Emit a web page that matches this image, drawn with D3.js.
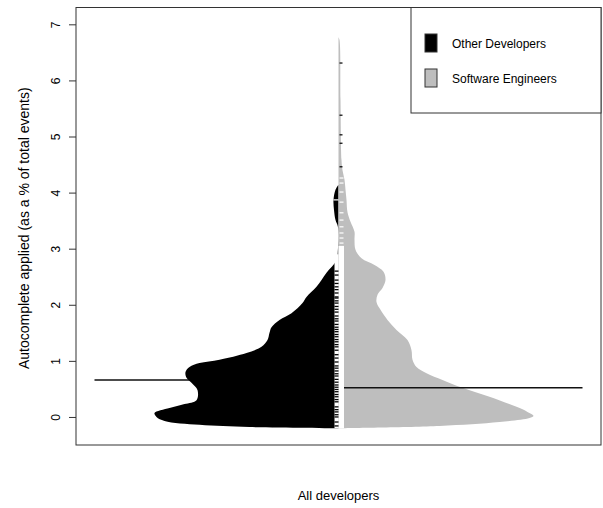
<!DOCTYPE html>
<html>
<head>
<meta charset="utf-8">
<script src="https://cdn.jsdelivr.net/npm/d3@7"></script>
<style>
  body { margin: 0; background: #fff; }
  text { font-family: "Liberation Sans", Arial, Helvetica, sans-serif; fill: #000; }
</style>
</head>
<body>
<svg></svg>
<script>
// bean outlines: [value, relative density]
const otherDevDensity = [
  [-0.20, 0], [-0.18, 0.445], [-0.14, 0.695], [-0.07, 0.87], [0.0, 0.91], [0.07, 0.92],
  [0.16, 0.845], [0.23, 0.77], [0.30, 0.71], [0.48, 0.705], [0.61, 0.735], [0.70, 0.76],
  [0.80, 0.765], [0.89, 0.745], [0.96, 0.695], [1.02, 0.595], [1.14, 0.46], [1.25, 0.385],
  [1.37, 0.355], [1.50, 0.345], [1.60, 0.335], [1.73, 0.295], [1.85, 0.235], [2.03, 0.18],
  [2.14, 0.16], [2.32, 0.11], [2.57, 0.06], [2.80, 0.01], [2.98, 0.003], [3.39, 0.003],
  [3.51, 0.015], [3.69, 0.0225], [3.87, 0.025], [4.05, 0.015], [4.14, 0]
];
const softEngDensity = [
  [-0.20, 0], [-0.16, 0.505], [-0.09, 0.805], [-0.02, 0.955], [0.02, 0.975], [0.09, 0.945],
  [0.18, 0.89], [0.36, 0.755], [0.52, 0.62], [0.66, 0.52], [0.78, 0.44], [0.89, 0.39],
  [1.02, 0.37], [1.19, 0.365], [1.37, 0.345], [1.55, 0.29], [1.73, 0.245], [1.91, 0.21],
  [2.05, 0.19], [2.18, 0.195], [2.30, 0.22], [2.44, 0.235], [2.59, 0.225], [2.71, 0.18],
  [2.83, 0.115], [2.98, 0.085], [3.16, 0.08], [3.30, 0.08], [3.48, 0.06], [3.65, 0.045],
  [3.87, 0.04], [4.05, 0.035], [4.23, 0.03], [4.40, 0.02], [4.58, 0.015], [5.65, 0.01],
  [6.72, 0.005], [6.77, 0]
];
const groupMeans = [0.66, 0.52];
const otherDevRug = [-0.16, -0.09, 0.0, 0.04, 0.09, 0.13, 0.18, 0.27, 0.31, 0.36, 0.40, 0.45,
  0.49, 0.53, 0.57, 0.62, 0.67, 0.73, 0.77, 0.82, 0.87, 0.91, 0.98, 1.05, 1.11, 1.19, 1.25,
  1.29, 1.34, 1.38, 1.43, 1.47, 1.52, 1.56, 1.60, 1.65, 1.71, 1.75, 1.80, 1.87, 1.92, 1.97,
  2.03, 2.07, 2.12, 2.14, 2.21, 2.27, 2.32, 2.38, 2.44, 2.53, 2.60];
const otherDevUpperRug = [3.87];
const softEngUpperRug = [3.10, 3.19, 3.28, 3.39, 3.51, 3.64, 3.83, 4.01, 4.17, 4.26];
const softEngOutliers = [4.46, 4.88, 5.03, 5.38, 6.31];
const yTicks = [0, 1, 2, 3, 4, 5, 6, 7];
const legendNames = ["Other Developers", "Software Engineers"];
const legendColors = ["#000000", "#bebebe"];

const width = 603;
const height = 508;
const svg = d3.select("svg").attr("width", width).attr("height", height);

const plotLeft = 76, plotRight = 601, plotTop = 7.5, plotBottom = 445;
const x = d3.scaleLinear().domain([0.5, 1.5]).range([plotLeft, plotRight]);
const y = d3.scaleLinear().domain([-0.5, 7.3]).range([plotBottom, plotTop]);
const w = d3.scaleLinear().domain([0, 1]).range([0, 200]);
const cx = x(1);

const plot = svg.append("g");

// average of the left group, the black bean covers its inner part
plot.append("line")
    .attr("x1", cx - 244).attr("x2", cx)
    .attr("y1", y(groupMeans[0])).attr("y2", y(groupMeans[0]))
    .attr("stroke", "#111").attr("stroke-width", 1.5);

// left half (black)
plot.append("path")
    .datum(otherDevDensity)
    .attr("fill", "#000")
    .attr("d", d3.area()
      .curve(d3.curveCatmullRom)
      .y(d => y(d[0]))
      .x0(cx)
      .x1(d => cx - w(d[1])));

// right half (grey)
plot.append("path")
    .datum(softEngDensity)
    .attr("fill", "#bebebe")
    .attr("d", d3.area()
      .curve(d3.curveCatmullRom)
      .y(d => y(d[0]))
      .x0(cx)
      .x1(d => cx + w(d[1])));

// dense bean lines near the middle
plot.append("rect")
    .attr("x", cx - 4).attr("width", 4)
    .attr("y", y(2.9)).attr("height", y(-0.2) - y(2.9))
    .attr("fill", "#fff");
plot.append("rect")
    .attr("x", cx).attr("width", 5.5)
    .attr("y", y(3.05)).attr("height", y(-0.2) - y(3.05))
    .attr("fill", "#fff");

plot.selectAll(".rugL")
    .data(otherDevRug)
    .enter().append("line")
      .attr("x1", cx - 4).attr("x2", cx)
      .attr("y1", d => y(d)).attr("y2", d => y(d))
      .attr("stroke", "#000").attr("stroke-width", 1.3);

plot.selectAll(".rugLU")
    .data(otherDevUpperRug)
    .enter().append("line")
      .attr("x1", cx - 5).attr("x2", cx)
      .attr("y1", d => y(d)).attr("y2", d => y(d))
      .attr("stroke", "#fff").attr("stroke-width", 1.2);

plot.selectAll(".rugRU")
    .data(softEngUpperRug)
    .enter().append("line")
      .attr("x1", cx + 1).attr("x2", cx + 5)
      .attr("y1", d => y(d)).attr("y2", d => y(d))
      .attr("stroke", "#fff").attr("stroke-width", 1.2);

plot.selectAll(".rugRO")
    .data(softEngOutliers)
    .enter().append("line")
      .attr("x1", cx + 1).attr("x2", cx + 4)
      .attr("y1", d => y(d)).attr("y2", d => y(d))
      .attr("stroke", "#000").attr("stroke-width", 1.2);

// average of the right group
plot.append("line")
    .attr("x1", cx + 5.5).attr("x2", cx + 244)
    .attr("y1", y(groupMeans[1])).attr("y2", y(groupMeans[1]))
    .attr("stroke", "#111").attr("stroke-width", 1.5);

// box
svg.append("rect")
    .attr("x", plotLeft).attr("y", plotTop)
    .attr("width", plotRight - plotLeft).attr("height", plotBottom - plotTop)
    .attr("fill", "none").attr("stroke", "#333").attr("stroke-width", 1);

// y axis
const yAxis = svg.append("g")
    .attr("transform", `translate(${plotLeft},0)`)
    .call(d3.axisLeft(y).tickValues(yTicks).tickSize(7).tickFormat(d3.format("d")));
yAxis.select(".domain").remove();
yAxis.selectAll(".tick line").attr("stroke", "#333");
yAxis.selectAll(".tick text")
    .attr("x", null).attr("dy", null)
    .attr("transform", "translate(-16,0) rotate(-90)")
    .attr("text-anchor", "middle")
    .style("font-size", "12px")
    .style("font-family", "'Liberation Sans', Arial, sans-serif");

svg.append("text")
    .attr("transform", `translate(29,${(plotTop + plotBottom) / 2 + 2}) rotate(-90)`)
    .attr("text-anchor", "middle")
    .style("font-size", "14px")
    .text("Autocomplete applied (as a % of total events)");

svg.append("text")
    .attr("x", cx).attr("y", 500)
    .attr("text-anchor", "middle")
    .style("font-size", "13px")
    .text("All developers");

// legend
const legend = svg.append("g");
legend.append("rect")
    .attr("x", 411).attr("y", plotTop)
    .attr("width", plotRight - 411).attr("height", 113 - plotTop)
    .attr("fill", "#fff").attr("stroke", "#333");
const items = legend.selectAll(".item")
    .data(legendNames)
    .enter().append("g")
      .attr("transform", (d, i) => `translate(425,${34 + i * 35})`);
items.append("rect")
    .attr("width", 12).attr("height", 18)
    .attr("fill", (d, i) => legendColors[i])
    .attr("stroke", "#333");
items.append("text")
    .attr("x", 27).attr("y", 14)
    .style("font-size", "12px")
    .text(d => d);
</script>
</body>
</html>
